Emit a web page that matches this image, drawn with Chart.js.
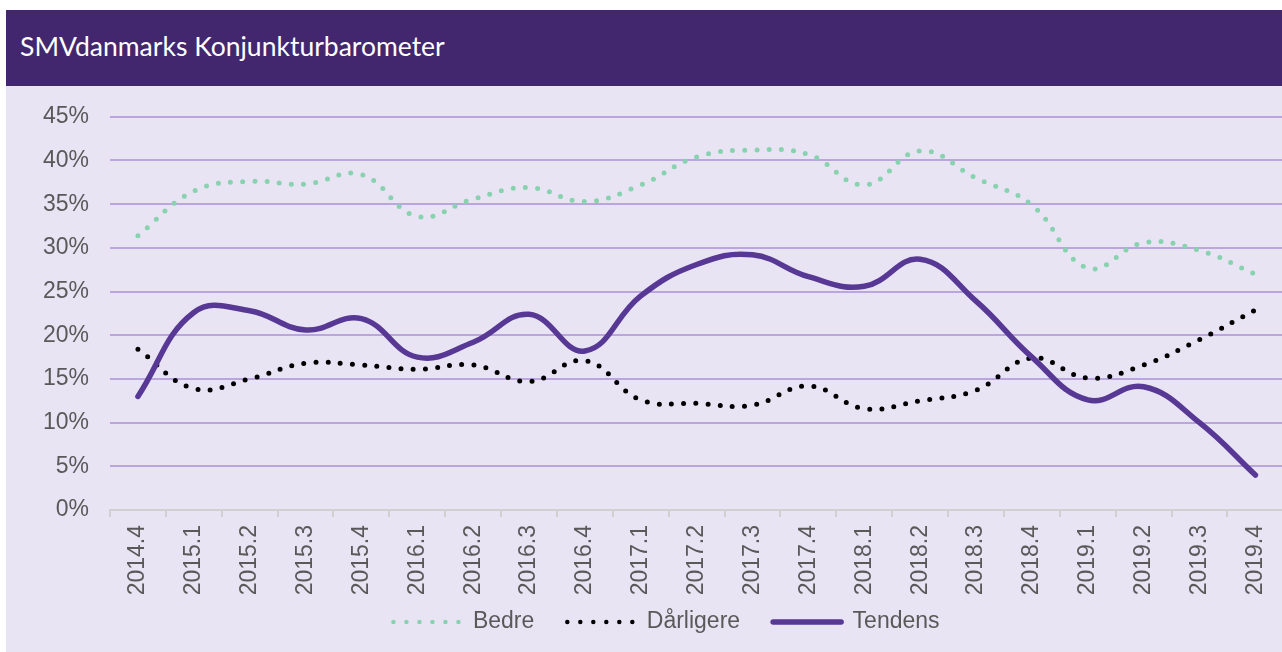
<!DOCTYPE html>
<html>
<head>
<meta charset="utf-8">
<script src="https://cdn.jsdelivr.net/npm/chart.js@4"></script>
<style>
  html, body { margin: 0; padding: 0; background: #ffffff; overflow: hidden; }
  #panel { position: absolute; left: 6px; top: 10px; width: 1285px; height: 642px; background: #E9E4F4; }
  #header { height: 76px; background: #42276F; color: #ffffff; font-family: Lato, "Open Sans", sans-serif;
            font-size: 26.5px; line-height: 72px; padding-left: 14px; box-sizing: border-box; }
  #wrap { position: relative; width: 1285px; height: 570px; margin-top: -4px; }
</style>
</head>
<body>
<div id="panel">
  <div id="header">SMVdanmarks Konjunkturbarometer</div>
  <div id="wrap"><canvas id="chart"></canvas></div>
</div>
<script>
// kvartaler
const kvartaler = ['2014.4', '2015.1', '2015.2', '2015.3', '2015.4', '2016.1', '2016.2', '2016.3', '2016.4',
    '2017.1', '2017.2', '2017.3', '2017.4', '2018.1', '2018.2', '2018.3', '2018.4', '2019.1', '2019.2', '2019.3', '2019.4'];

// andel i procent
const bedre = [31.4, 36.5, 37.6, 37.3, 38.4, 33.6, 35.6, 36.9, 35.3, 37.2, 40.4, 41.2, 40.7, 37.2, 41.1, 38.0, 34.9, 27.7, 30.6, 29.7, 27.0];
const daarligere = [18.4, 13.9, 15.0, 16.8, 16.6, 16.1, 16.6, 14.7, 17.1, 12.6, 12.2, 12.0, 14.2, 11.6, 12.5, 13.7, 17.4, 15.1, 16.6, 19.5, 22.9];
const tendens = [13.0, 22.6, 22.8, 20.6, 21.9, 17.5, 19.2, 22.4, 18.2, 24.5, 28.1, 29.2, 26.7, 25.6, 28.7, 23.9, 17.5, 12.6, 14.1, 10.0, 4.0];

const serier = ['Bedre', 'Dårligere', 'Tendens'];
const yTicks = [0, 5, 10, 15, 20, 25, 30, 35, 40, 45];

// --- fælles stil ---
Chart.defaults.font.family = "'Liberation Sans', Arial, sans-serif";
Chart.defaults.font.size = 23;
Chart.defaults.color = '#595959';

const dotDash = [0, 12.2];

// flytter forklaringen op under aksens tekster (aksen skal beholde sin fulde højde)
const legendShift = {
    id: 'legendShift',
    afterLayout(chart) {
        const lg = chart.legend;
        lg.top -= 22.5; lg.bottom -= 22.5;
        lg.left += 18; lg.right += 18;
    }
};

new Chart(document.getElementById('chart').getContext('2d'), {
    type: 'line',
    data: {
        labels: kvartaler,
        datasets: [
            { label: serier[0], data: bedre, borderColor: '#88D2B0', backgroundColor: '#88D2B0',
              borderWidth: 5, borderDash: dotDash, borderCapStyle: 'round', order: 2 },
            { label: serier[1], data: daarligere, borderColor: '#000000', backgroundColor: '#000000',
              borderWidth: 5, borderDash: dotDash, borderCapStyle: 'round', order: 1 },
            { label: serier[2], data: tendens, borderColor: '#573894', backgroundColor: '#573894',
              borderWidth: 5.5, borderCapStyle: 'round', order: 0 }
        ]
    },
    options: {
        responsive: true, maintainAspectRatio: false, animation: false,
        layout: { padding: { top: 25, left: 0, right: 0, bottom: -14 } },
        elements: { point: { radius: 0, hoverRadius: 0 }, line: { tension: 0.42 } },
        scales: {
            x: {
                offset: true,
                grid: { offset: true, drawOnChartArea: false, drawTicks: true, tickLength: 7, color: '#D0D0D0', lineWidth: 2 },
                border: { color: '#D0D0D0', width: 2 },
                ticks: { autoSkip: false, minRotation: 90, maxRotation: 90, padding: 8 },
                afterFit: s => { s.height = 90; }
            },
            y: {
                min: 0, max: 45,
                afterBuildTicks: s => { s.ticks = yTicks.map(v => ({ value: v })); },
                grid: { tickLength: 0, drawTicks: false, lineWidth: 2,
                        color: c => c.tick && c.tick.value === 0 ? '#D0D0D0' : '#BBA5DE' },
                border: { display: false },
                ticks: { padding: 21, callback: v => v + '%' },
                afterFit: s => { s.width = 104; }
            }
        },
        plugins: {
            legend: {
                position: 'bottom',
                labels: {
                    usePointStyle: true, pointStyle: 'line', pointStyleWidth: 68, boxHeight: 4,
                    padding: 33, color: '#595959', font: { size: 23 },
                    sort: (a, b) => a.datasetIndex - b.datasetIndex,
                    generateLabels: chart => {
                        const items = Chart.defaults.plugins.legend.labels.generateLabels(chart);
                        items.forEach(it => {
                            const ds = chart.data.datasets[it.datasetIndex];
                            it.strokeStyle = ds.borderColor;
                            it.lineDash = ds.borderDash ? [0, 13] : [];
                            it.lineCap = 'round';
                            it.lineWidth = ds.borderDash ? 4.5 : 5.5;
                        });
                        return items;
                    }
                }
            },
            tooltip: { enabled: false }
        }
    },
    plugins: [legendShift]
});
</script>
</body>
</html>
